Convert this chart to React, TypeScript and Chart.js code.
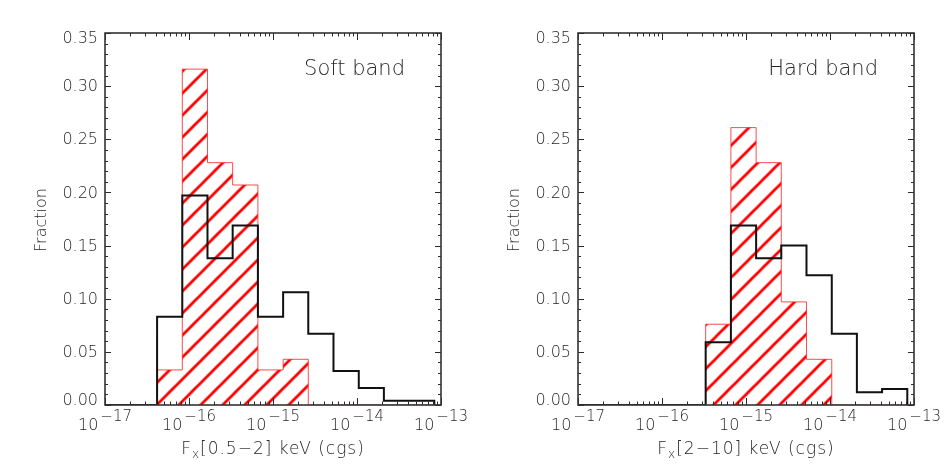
import React, { useEffect, useRef } from "react";
import { Chart, registerables } from "chart.js";

Chart.register(...registerables);

// ---- axis tick values / labels ----
const xTickValues = [1e-17, 1e-16, 1e-15, 1e-14, 1e-13];
const xTickBase = "10";
const xTickExponents = ["\u221217", "\u221216", "\u221215", "\u221214", "\u221213"];
const minorMultipliers = [2, 3, 4, 5, 6, 7, 8, 9];
const yTickValues = [0, 0.05, 0.1, 0.15, 0.2, 0.25, 0.3, 0.35];
const yMax = 0.35;

// ---- Soft band (0.5-2 keV) ----
const softEdges = [
  4.17e-17, 8.32e-17, 1.66e-16, 3.31e-16, 6.61e-16, 1.32e-15, 2.63e-15, 5.25e-15,
  1.05e-14, 2.09e-14, 4.17e-14, 8.32e-14,
];
const softAll = [0.083, 0.197, 0.138, 0.169, 0.083, 0.106, 0.067, 0.032, 0.016, 0.004, 0.004];
const softSelected = [0.033, 0.316, 0.228, 0.207, 0.033, 0.043];

// ---- Hard band (2-10 keV) ----
const hardEdges = [
  3.31e-16, 6.61e-16, 1.32e-15, 2.63e-15, 5.25e-15, 1.05e-14, 2.09e-14, 4.17e-14, 8.32e-14,
];
const hardAll = [0.059, 0.169, 0.138, 0.15, 0.122, 0.067, 0.012, 0.015];
const hardSelected = [0.076, 0.261, 0.228, 0.097, 0.043];

const FONT = "'DejaVu Sans', sans-serif";
const W = "200";
const INK = "#262626";

function stepPoints(edges: number[], vals: number[], startX?: number, endX?: number) {
  const pts: { x: number; y: number }[] = [];
  if (startX !== undefined) pts.push({ x: startX, y: 0 });
  pts.push({ x: edges[0], y: 0 });
  vals.forEach((v, i) => pts.push({ x: edges[i], y: v }));
  pts.push({ x: edges[vals.length], y: 0 });
  if (endX !== undefined) pts.push({ x: endX, y: 0 });
  return pts;
}

const decorPlugin = {
  id: "decor",
  afterDraw(chart: any, _args: any, opts: any) {
    const { ctx, chartArea: a, scales } = chart;
    const x = scales.x;
    const y = scales.y;
    ctx.save();
    ctx.strokeStyle = "#2a2a2a";
    ctx.lineWidth = 1;
    // x ticks (inward, bottom and top)
    const xt: { v: number; major: boolean }[] = [];
    for (let i = 0; i < xTickValues.length; i++) {
      xt.push({ v: xTickValues[i], major: true });
      if (i < xTickValues.length - 1)
        minorMultipliers.forEach((m) => xt.push({ v: xTickValues[i] * m, major: false }));
    }
    ctx.beginPath();
    xt.forEach((t) => {
      const px = Math.round(x.getPixelForValue(t.v)) + 0.5;
      const len = t.major ? 7 : 3.5;
      ctx.moveTo(px, a.bottom);
      ctx.lineTo(px, a.bottom - len);
      ctx.moveTo(px, a.top);
      ctx.lineTo(px, a.top + len);
    });
    // y ticks
    const nMinor = Math.round(yMax / 0.01);
    for (let i = 0; i <= nMinor; i++) {
      const v = i * 0.01;
      const py = Math.round(y.getPixelForValue(v)) + 0.5;
      const len = i % 5 === 0 ? 6 : 3;
      ctx.moveTo(a.left, py);
      ctx.lineTo(a.left + len, py);
      ctx.moveTo(a.right, py);
      ctx.lineTo(a.right - len, py);
    }
    ctx.stroke();
    // frame
    ctx.lineWidth = 1.6;
    ctx.strokeStyle = "#333";
    ctx.strokeRect(a.left, a.top, a.right - a.left, a.bottom - a.top);

    ctx.fillStyle = INK;
    // y tick labels (end labels nudged inward, as in the original plot)
    ctx.textAlign = "right";
    ctx.textBaseline = "middle";
    ctx.font = `${W} 16px ${FONT}`;
    yTickValues.forEach((v, i) => {
      let py = y.getPixelForValue(v) + 1;
      if (i === 0) py -= 5.5;
      if (i === yTickValues.length - 1) py += 5;
      ctx.fillText(v.toFixed(2), a.left - 7, py);
    });

    // x tick labels with superscripts
    ctx.textAlign = "left";
    ctx.textBaseline = "alphabetic";
    xTickValues.forEach((v, i) => {
      const px = x.getPixelForValue(v);
      ctx.font = `${W} 16px ${FONT}`;
      const w1 = ctx.measureText(xTickBase).width;
      ctx.font = `${W} 15px ${FONT}`;
      const w2 = ctx.measureText(xTickExponents[i]).width;
      const start = px - (w1 + 2 + w2) / 2;
      ctx.font = `${W} 16px ${FONT}`;
      ctx.fillText(xTickBase, start, 430);
      ctx.font = `${W} 15px ${FONT}`;
      ctx.fillText(xTickExponents[i], start + w1 + 2, 421);
    });

    // x title with subscript
    (ctx as any).letterSpacing = "1px";
    ctx.font = `${W} 17px ${FONT}`;
    const wF = ctx.measureText("F").width;
    const wRest = ctx.measureText(opts.titleRest).width;
    ctx.font = `${W} 12px ${FONT}`;
    const wX = ctx.measureText("x").width;
    const total = wF + wX + wRest;
    let sx = (a.left + a.right) / 2 - total / 2;
    ctx.font = `${W} 17px ${FONT}`;
    ctx.fillText("F", sx, 454);
    sx += wF;
    ctx.font = `${W} 12px ${FONT}`;
    ctx.fillText("x", sx, 458);
    sx += wX;
    ctx.font = `${W} 17px ${FONT}`;
    ctx.fillText(opts.titleRest, sx, 454);
    (ctx as any).letterSpacing = "0px";

    // y title
    ctx.save();
    ctx.translate(46, (a.top + a.bottom) / 2 + 1);
    ctx.rotate(-Math.PI / 2);
    ctx.textAlign = "center";
    ctx.font = `${W} 16px ${FONT}`;
    ctx.fillText("Fraction", 0, 0);
    ctx.restore();

    // band label
    ctx.textAlign = "right";
    ctx.font = `${W} 21px ${FONT}`;
    ctx.fillText(opts.band, a.right - 36, 75);
    ctx.restore();
  },
};

type PanelProps = {
  left: number;
  edges: number[];
  all: number[];
  sel: number[];
  titleRest: string;
  band: string;
  hatchShift: number;
};

function Panel({ left, edges, all, sel, titleRest, band, hatchShift }: PanelProps) {
  const ref = useRef<HTMLCanvasElement>(null);
  useEffect(() => {
    const canvas = ref.current!;
    const c2d = canvas.getContext("2d")!;
    const tile = document.createElement("canvas");
    tile.width = 22;
    tile.height = 22;
    const t = tile.getContext("2d")!;
    t.strokeStyle = "#ff0000";
    t.lineWidth = 2.8;
    t.beginPath();
    t.moveTo(-3, 25);
    t.lineTo(25, -3);
    t.moveTo(-3, 3);
    t.lineTo(3, -3);
    t.moveTo(19, 25);
    t.lineTo(25, 19);
    t.stroke();
    const pattern = c2d.createPattern(tile, "repeat")!;
    pattern.setTransform(new DOMMatrix([1, 0, 0, 1, hatchShift, 0]));

    const chart = new Chart(canvas, {
      type: "line",
      data: {
        datasets: [
          {
            label: "all",
            data: stepPoints(edges, all, 1e-17, undefined),
            borderColor: "#111",
            borderWidth: 2,
            pointRadius: 0,
            stepped: true,
            fill: false,
          },
          {
            label: "selected",
            data: stepPoints(edges, sel, undefined, 1e-13),
            borderColor: "rgba(255,30,30,0.8)",
            borderWidth: 1,
            pointRadius: 0,
            stepped: true,
            fill: "origin",
            backgroundColor: pattern as any,
          },
        ],
      },
      options: {
        responsive: false,
        animation: false,
        devicePixelRatio: 1,
        layout: { padding: { top: 33, right: 31, left: 0, bottom: 0 } },
        plugins: {
          legend: { display: false },
          tooltip: { enabled: false },
          decor: { titleRest, band },
        } as any,
        scales: {
          x: {
            type: "logarithmic",
            min: 1e-17,
            max: 1e-13,
            ticks: { display: false },
            grid: { display: false, drawTicks: false },
            border: { display: false },
            afterFit: (s: any) => {
              s.height = 67;
            },
          },
          y: {
            type: "linear",
            min: 0,
            max: yMax,
            ticks: { display: false },
            grid: { display: false, drawTicks: false },
            border: { display: false },
            afterFit: (s: any) => {
              s.width = 105;
            },
          },
        },
      },
      plugins: [decorPlugin],
    });
    return () => chart.destroy();
  }, []);
  return (
    <canvas
      ref={ref}
      width={472}
      height={472}
      style={{ position: "absolute", left, top: 0, width: 472, height: 472 }}
    />
  );
}

export default function App() {
  return (
    <div style={{ position: "absolute", left: 0, top: 0, width: 945, height: 472, background: "#fff" }}>
      <Panel
        left={0}
        edges={softEdges}
        all={softAll}
        sel={softSelected}
        titleRest={"[0.5\u22122] keV (cgs)"}
        band="Soft band"
        hatchShift={11.6}
      />
      <Panel
        left={473}
        edges={hardEdges}
        all={hardAll}
        sel={hardSelected}
        titleRest={"[2\u221210] keV (cgs)"}
        band="Hard band"
        hatchShift={7.5}
      />
    </div>
  );
}
